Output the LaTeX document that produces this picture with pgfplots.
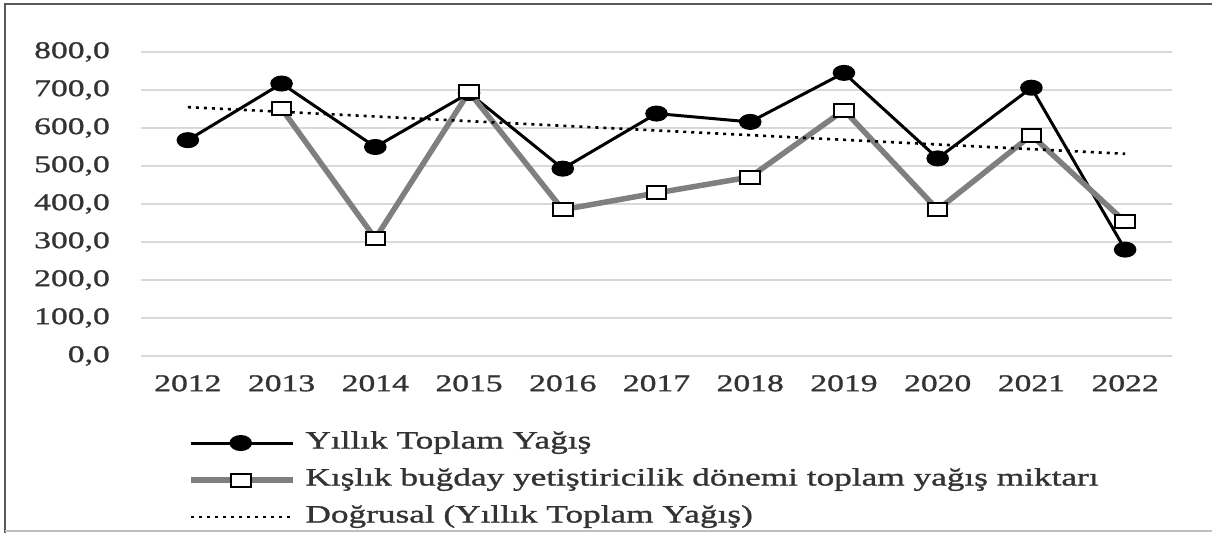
\documentclass[border=0pt]{standalone}
\usepackage{fontspec}
\setmainfont{Liberation Serif}
\newfontfamily\tickfont{Liberation Serif}[FakeStretch=1.4, FakeBold=1.2]
\newfontfamily\legfont{Liberation Serif}[FakeStretch=1.41, FakeBold=1.2]
\usepackage{pgfplots}
\pgfplotsset{compat=1.18}
\definecolor{gridc}{HTML}{D9D9D9}
\definecolor{seriesgray}{HTML}{7F7F7F}
\definecolor{txt}{HTML}{333333}
\begin{document}
\begin{tikzpicture}
\path[use as bounding box] (0,0) rectangle (1212bp,533bp);
\draw[draw=black!65, line width=2bp] (5bp,0) -- (5bp,529bp) -- (1212bp,529bp);
\draw[draw=black!25, line width=1.5bp] (5bp,2bp) -- (1212bp,2bp);
\begin{axis}[
  at={(141bp,177bp)}, anchor=south west,
  scale only axis, width=1031bp, height=304bp,
  xmin=-0.5, xmax=10.5, ymin=0, ymax=800,
  xtick={0,1,2,3,4,5,6,7,8,9,10},
  xticklabels={2012,2013,2014,2015,2016,2017,2018,2019,2020,2021,2022},
  ytick={0,100,200,300,400,500,600,700,800},
  axis line style={draw=none},
  major tick length=0pt,
  ymajorgrids, grid style={draw=gridc, line width=1.8bp},
  /pgf/number format/assume math mode=true,
  yticklabel style={/pgf/number format/fixed, /pgf/number format/fixed zerofill,
     /pgf/number format/precision=1, /pgf/number format/use comma,
     /pgf/number format/1000 sep={}},
  ticklabel style={font=\tickfont\fontsize{24bp}{28bp}\selectfont, text=txt},
  yticklabel style={anchor=east, inner sep=0pt, xshift=-31bp},
  xticklabel style={anchor=north, inner sep=0pt, yshift=-19bp},
  legend style={draw=none, fill=none, inner sep=0pt, outer sep=0pt,
     at={(0.0456,-0.408)}, anchor=west,
     font=\legfont\fontsize{25bp}{29bp}\selectfont, text=txt,
     row sep=14bp, column sep=10bp,
     nodes={inner sep=0pt, text height=17bp, text depth=6bp}},
  legend cell align=left,
  legend image code/.code={\draw[mark repeat=2,mark phase=2,#1] plot coordinates {(0bp,0bp) (50bp,0bp) (102bp,0bp)};},
  clip=false,
]
\addplot[black, line width=3bp, mark=*, mark size=6.5bp,
   mark options={solid, xscale=1.5, fill=black}]
  coordinates {(0,568) (1,717) (2,550) (3,692) (4,493) (5,638) (6,616) (7,745) (8,520) (9,706) (10,280)};
\addlegendentry{Yıllık Toplam Yağış}
\addplot[seriesgray, line width=5.5bp, mark=square*, mark size=6.5bp,
   mark options={solid, xscale=1.5, draw=black, fill=white, line width=2bp}]
  coordinates {(1,651) (2,309) (3,695) (4,385) (5,429) (6,471) (7,647) (8,385) (9,581) (10,353)};
\addlegendentry{Kışlık buğday yetiştiricilik dönemi toplam yağış miktarı}
\addplot[black, line width=2.6bp, dash pattern=on 3bp off 5bp, mark=none]
  coordinates {(0,654.9) (10,532.1)};
\addlegendentry{Doğrusal (Yıllık Toplam Yağış)}
\end{axis}
\end{tikzpicture}
\end{document}
